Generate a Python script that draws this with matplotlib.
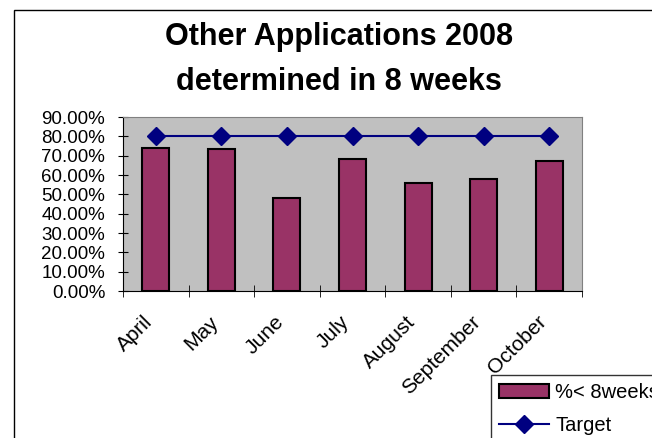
import matplotlib.pyplot as plt
from matplotlib.patches import Rectangle
from matplotlib.ticker import FuncFormatter, FixedLocator
from matplotlib.transforms import ScaledTranslation

plt.rcParams['font.family'] = ['Liberation Sans', 'DejaVu Sans']

months = ["April", "May", "June", "July", "August", "September", "October"]
pct_within_8_weeks = [0.738, 0.733, 0.483, 0.684, 0.559, 0.577, 0.672]
target = [0.80, 0.80, 0.80, 0.80, 0.80, 0.80, 0.80]
y_ticks = [0.0, 0.1, 0.2, 0.3, 0.4, 0.5, 0.6, 0.7, 0.8, 0.9]

fig = plt.figure(figsize=(6.52, 4.38), dpi=100)

# chart-area frame, runs off the right and bottom edges
fig.patches.append(Rectangle((14 / 652, -0.2), 2.0, 1.2 - 10 / 438,
                             transform=fig.transFigure, fill=False,
                             edgecolor="black", linewidth=1.0))

ax = fig.add_axes([123 / 652, 1 - 291 / 438, 459 / 652, 174 / 438])
ax.set_facecolor("#C0C0C0")

x = list(range(len(months)))
bars = ax.bar(x, pct_within_8_weeks, width=0.41, color="#993366",
              edgecolor="black", linewidth=1.5, label="%< 8weeks", zorder=2)
line, = ax.plot(x, target, color="#000080", linewidth=1.5, marker="D",
                markersize=9, label="Target", zorder=3)

ax.set_xlim(-0.5, len(months) - 0.5)
ax.set_ylim(0, 0.9)
ax.yaxis.set_major_locator(FixedLocator(y_ticks))
ax.yaxis.set_major_formatter(FuncFormatter(lambda v, _: f"{v * 100:.2f}%"))
ax.tick_params(axis="y", direction="inout", length=6.5, labelsize=13.5, pad=9.5)

ax.set_xticks(x)
ax.set_xticklabels(months, rotation=45, ha="right", va="center",
                   rotation_mode="anchor", fontsize=15)
ax.tick_params(axis="x", which="major", length=0, pad=20)
# rotated month labels end slightly left of their slot centres
shift = ScaledTranslation(-6 / 100, 0, fig.dpi_scale_trans)
for lbl in ax.get_xticklabels():
    lbl.set_transform(lbl.get_transform() + shift)
ax.set_xticks([i - 0.5 for i in range(len(months) + 1)], minor=True)
ax.tick_params(axis="x", which="minor", direction="inout", length=9)

for side in ("top", "right"):
    ax.spines[side].set_color("#808080")
for side in ("left", "bottom"):
    ax.spines[side].set_color("black")

fig.text(339 / 652, 1 - 45 / 438, "Other Applications 2008", ha="center",
         va="baseline", fontsize=22, fontweight="bold")
fig.text(339 / 652, 1 - 90 / 438, "determined in 8 weeks", ha="center",
         va="baseline", fontsize=22, fontweight="bold")

leg = fig.legend(handles=[bars, line], loc="upper left",
                 bbox_to_anchor=(491 / 652, 1 - 375 / 438), fontsize=14.5,
                 frameon=True, fancybox=False, borderaxespad=0,
                 handlelength=2.5, labelspacing=0.7, handletextpad=0.3,
                 borderpad=0.4)
leg.get_frame().set_edgecolor("black")
leg.get_frame().set_linewidth(1.0)

fig.savefig("out.png", dpi=100)
